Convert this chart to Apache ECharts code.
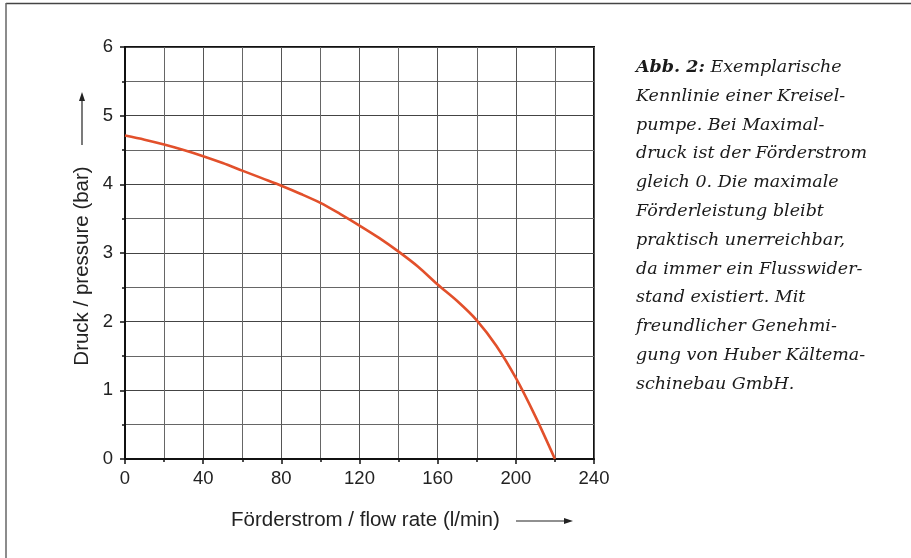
<!DOCTYPE html>
<html>
<head>
<meta charset="utf-8">
<script src="https://cdn.jsdelivr.net/npm/echarts@6/dist/echarts.min.js"></script>
<style>
  html, body { margin: 0; padding: 0; background: #fff; }
  #chart { width: 911px; height: 558px; }
</style>
</head>
<body>
<div id="chart"></div>
<script>
// Kennlinie Kreiselpumpe: Förderstrom (l/min) -> Druck (bar)
var flowRate = [0, 10, 20, 30, 40, 50, 60, 70, 80, 90, 100, 110, 120, 130, 140, 150, 160, 170, 180, 190, 200, 210, 220];
var pressure = [4.71, 4.65, 4.58, 4.5, 4.41, 4.31, 4.2, 4.09, 3.98, 3.86, 3.73, 3.57, 3.4, 3.22, 3.02, 2.8, 2.54, 2.3, 2.02, 1.65, 1.18, 0.62, 0];
var xTicks = [0, 40, 80, 120, 160, 200, 240];
var yTicks = [0, 1, 2, 3, 4, 5, 6];

var captionHead = "Abb. 2:";
var caption = [
  "Exemplarische",
  "Kennlinie einer Kreisel-",
  "pumpe. Bei Maximal-",
  "druck ist der Förderstrom",
  "gleich 0. Die maximale",
  "Förderleistung bleibt",
  "praktisch unerreichbar,",
  "da immer ein Flusswider-",
  "stand existiert. Mit",
  "freundlicher Genehmi-",
  "gung von Huber Kältema-",
  "schinebau GmbH."
];

var chart = echarts.init(document.getElementById("chart"));

var data = flowRate.map(function (x, i) { return [x, pressure[i]]; });

var captionText = "{b|" + captionHead + "} " + caption.join("\n");

chart.setOption({
  animation: false,
  grid: {
    left: 125, right: 317, top: 47, bottom: 99,
    show: true, borderColor: "#111", borderWidth: 2
  },
  xAxis: {
    type: "value",
    min: 0, max: 240, interval: 40,
    axisLine: { show: true, onZero: false, lineStyle: { color: "#111", width: 2 } },
    axisTick: { show: true, length: 5, lineStyle: { color: "#111", width: 1.5 } },
    minorTick: { show: true, splitNumber: 2, length: 3, lineStyle: { color: "#111", width: 1.5 } },
    splitLine: { show: true, lineStyle: { color: "#555", width: 1 } },
    minorSplitLine: { show: true, lineStyle: { color: "#666", width: 1 } },
    axisLabel: {
      color: "#222", fontSize: 18.5, fontFamily: "Liberation Sans", margin: 10,
      formatter: function (v) { return xTicks.indexOf(v) >= 0 ? String(v) : ""; }
    }
  },
  yAxis: {
    type: "value",
    min: 0, max: 6, interval: 1,
    axisLine: { show: true, onZero: false, lineStyle: { color: "#111", width: 2 } },
    axisTick: { show: true, length: 5, lineStyle: { color: "#111", width: 1.5 } },
    minorTick: { show: true, splitNumber: 2, length: 3, lineStyle: { color: "#111", width: 1.5 } },
    splitLine: { show: true, lineStyle: { color: "#444", width: 1 } },
    minorSplitLine: { show: true, lineStyle: { color: "#666", width: 1 } },
    axisLabel: {
      color: "#222", fontSize: 18.5, fontFamily: "Liberation Sans", margin: 12,
      formatter: function (v) { return yTicks.indexOf(v) >= 0 ? String(v) : ""; }
    }
  },
  series: [{
    type: "line",
    data: data,
    smooth: 0.3,
    showSymbol: false,
    lineStyle: { color: "#e2502b", width: 2.6 },
    itemStyle: { color: "#e2502b" }
  }],
  graphic: [
    // Rahmen oben und links
    { type: "line", shape: { x1: 6, y1: 3.5, x2: 911, y2: 3.5 }, style: { stroke: "#444", lineWidth: 1.5 } },
    { type: "line", shape: { x1: 6, y1: 3, x2: 6, y2: 558 }, style: { stroke: "#666", lineWidth: 1.5 } },
    // Achsentitel
    {
      type: "text", x: 82, y: 266, rotation: Math.PI / 2,
      style: {
        text: "Druck / pressure (bar)", font: '20.5px "Liberation Sans"', fill: "#222",
        align: "center", verticalAlign: "middle"
      }
    },
    { type: "line", shape: { x1: 82, y1: 145, x2: 82, y2: 98 }, style: { stroke: "#222", lineWidth: 1.2 } },
    { type: "polygon", shape: { points: [[82, 92], [79, 101], [85, 101]] }, style: { fill: "#222" } },
    {
      type: "text", x: 231, y: 520,
      style: {
        text: "Förderstrom / flow rate (l/min)", font: '20.5px "Liberation Sans"', fill: "#222",
        align: "left", verticalAlign: "middle"
      }
    },
    { type: "line", shape: { x1: 516, y1: 521, x2: 566, y2: 521 }, style: { stroke: "#222", lineWidth: 1.2 } },
    { type: "polygon", shape: { points: [[573, 521], [564, 518], [564, 524]] }, style: { fill: "#222" } },
    // Bildunterschrift
    {
      type: "text", left: 636, top: 53,
      style: {
        text: captionText,
        font: 'italic 17.5px "DejaVu Serif"',
        fill: "#1a1a1a",
        lineHeight: 28.8,
        rich: {
          b: { font: 'italic bold 17.5px "DejaVu Serif"', fill: "#1a1a1a", lineHeight: 28.8 }
        }
      }
    }
  ]
});
</script>
</body>
</html>
